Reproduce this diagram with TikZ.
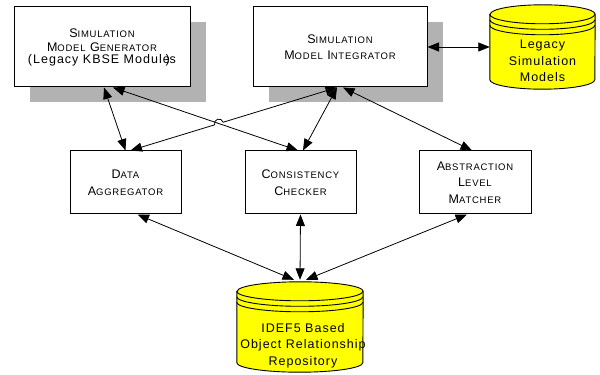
\documentclass[tikz,border=0pt]{standalone}
\usepackage{fontspec}
\setmainfont{Liberation Sans}[LetterSpace=8]
\usetikzlibrary{arrows.meta,shadows,intersections,calc}

\definecolor{dbyellow}{HTML}{FFFF00}
\definecolor{shadowgray}{HTML}{B2B2B2}

% first letter large, the rest in small capitals
\newcommand{\smc}[2]{{\fontsize{12.5}{16.5}\selectfont #1}{\fontsize{9.5}{16.5}\selectfont #2}}

\tikzset{
	box/.style={draw, line width=1pt, fill=white, inner sep=0pt,
		minimum width=111pt, minimum height=63pt, align=center,
		font=\fontsize{12.5}{16.5}\selectfont},
	shadowbox/.style={box, minimum height=80pt,
		drop shadow={shadow xshift=16pt, shadow yshift=-15.5pt, fill=shadowgray, opacity=1}},
	dbshape/.style={inner sep=0pt},
	dbline/.style={line width=0.9pt},
	dbtext/.style={align=center, inner sep=0pt, font=\fontsize{12.5}{16.5}\selectfont},
	link/.style={{Triangle[length=11.5pt,width=9pt]}-{Triangle[length=11.5pt,width=9pt]}, line width=0.8pt}
}

\begin{document}
\begin{tikzpicture}[x=1pt,y=1pt]
	\useasboundingbox (0,0) rectangle (600,375);

	% upper row
	\node[shadowbox, minimum width=176pt] (gen) at (102,328)
		{\smc{S}{IMULATION}\\[-2pt]\smc{M}{ODEL} \smc{G}{ENERATOR}\\[-5pt](Legacy KBSE Module\llap{)}s};
	\node[shadowbox, minimum width=174pt] (integ) at (340,328)
		{\smc{S}{IMULATION}\\\smc{M}{ODEL} \smc{I}{NTEGRATOR}};

	% middle row
	\node[box] (agg) at (125.5,192.5) {\smc{D}{ATA}\\\smc{A}{GGREGATOR}};
	\node[box] (cons) at (300.5,192.5) {\smc{C}{ONSISTENCY}\\\smc{C}{HECKER}};
	\node[box, minimum width=112pt] (abst) at (475,192.5)
		{\smc{A}{BSTRACTION}\\\smc{L}{EVEL}\\\smc{M}{ATCHER}};

	% databases
	\node[dbshape, minimum width=105pt, minimum height=84pt] (legacy) at (542.5,328) {};
	\node[dbshape, minimum width=126pt, minimum height=90pt] (repo) at (300,48) {};
	\foreach \n/\r in {legacy/52.5, repo/63}{
		\draw[dbline, fill=dbyellow] ([yshift=-9.5pt]\n.north west) -- ([yshift=9.5pt]\n.south west)
			arc(180:360:\r pt and 9.5pt) -- ([yshift=-9.5pt]\n.north east)
			arc(0:180:\r pt and 9.5pt) -- cycle;
		\draw[dbline] ([yshift=-9.5pt]\n.north west) arc(180:360:\r pt and 9.5pt);
		\draw[dbline] ([yshift=-15pt]\n.north west) arc(180:360:\r pt and 9.5pt);
		\draw[dbline] ([yshift=-20.5pt]\n.north west) arc(180:360:\r pt and 9.5pt);
	}
	\node[dbtext] (legacytext) at ([yshift=-14pt]legacy.center) {Legacy\\Simulation\\Models};
	\node[dbtext] (repotext) at ([xshift=3pt,yshift=-18.5pt]repo.center)
		{IDEF5 Based\\Object Relationship\\Repository};

	% connectors
	\draw[link] ([xshift=2pt]gen.south) -- (agg.north);
	\draw[link, name path=gencons] ([xshift=11pt]gen.south) -- ([xshift=-2.5pt]cons.north);
	\coordinate (ia) at ([xshift=-3pt]integ.south);
	\coordinate (ai) at ([xshift=5pt]agg.north);
	\path[name path=integagg] (ia) -- (ai);
	\path[name intersections={of=gencons and integagg, by=hop}];
	\draw[link] (ia) -- ($(hop)!4.5pt!(ia)$) arc(17:197:4.5pt) -- (ai);
	\draw[link] (ia) -- ([xshift=2.5pt]cons.north);
	\draw[link] ([xshift=3pt]integ.south) -- ([xshift=-3pt]abst.north);
	\draw[link] (integ.east) -- (legacy.west);

	\draw[link] ([xshift=12pt]agg.south) -- ([xshift=-6pt,yshift=2pt]repo.north);
	\draw[link] (cons.south) -- ([yshift=2pt]repo.north);
	\draw[link] ([xshift=-8pt]abst.south) -- ([xshift=6pt,yshift=2pt]repo.north);
\end{tikzpicture}
\end{document}
